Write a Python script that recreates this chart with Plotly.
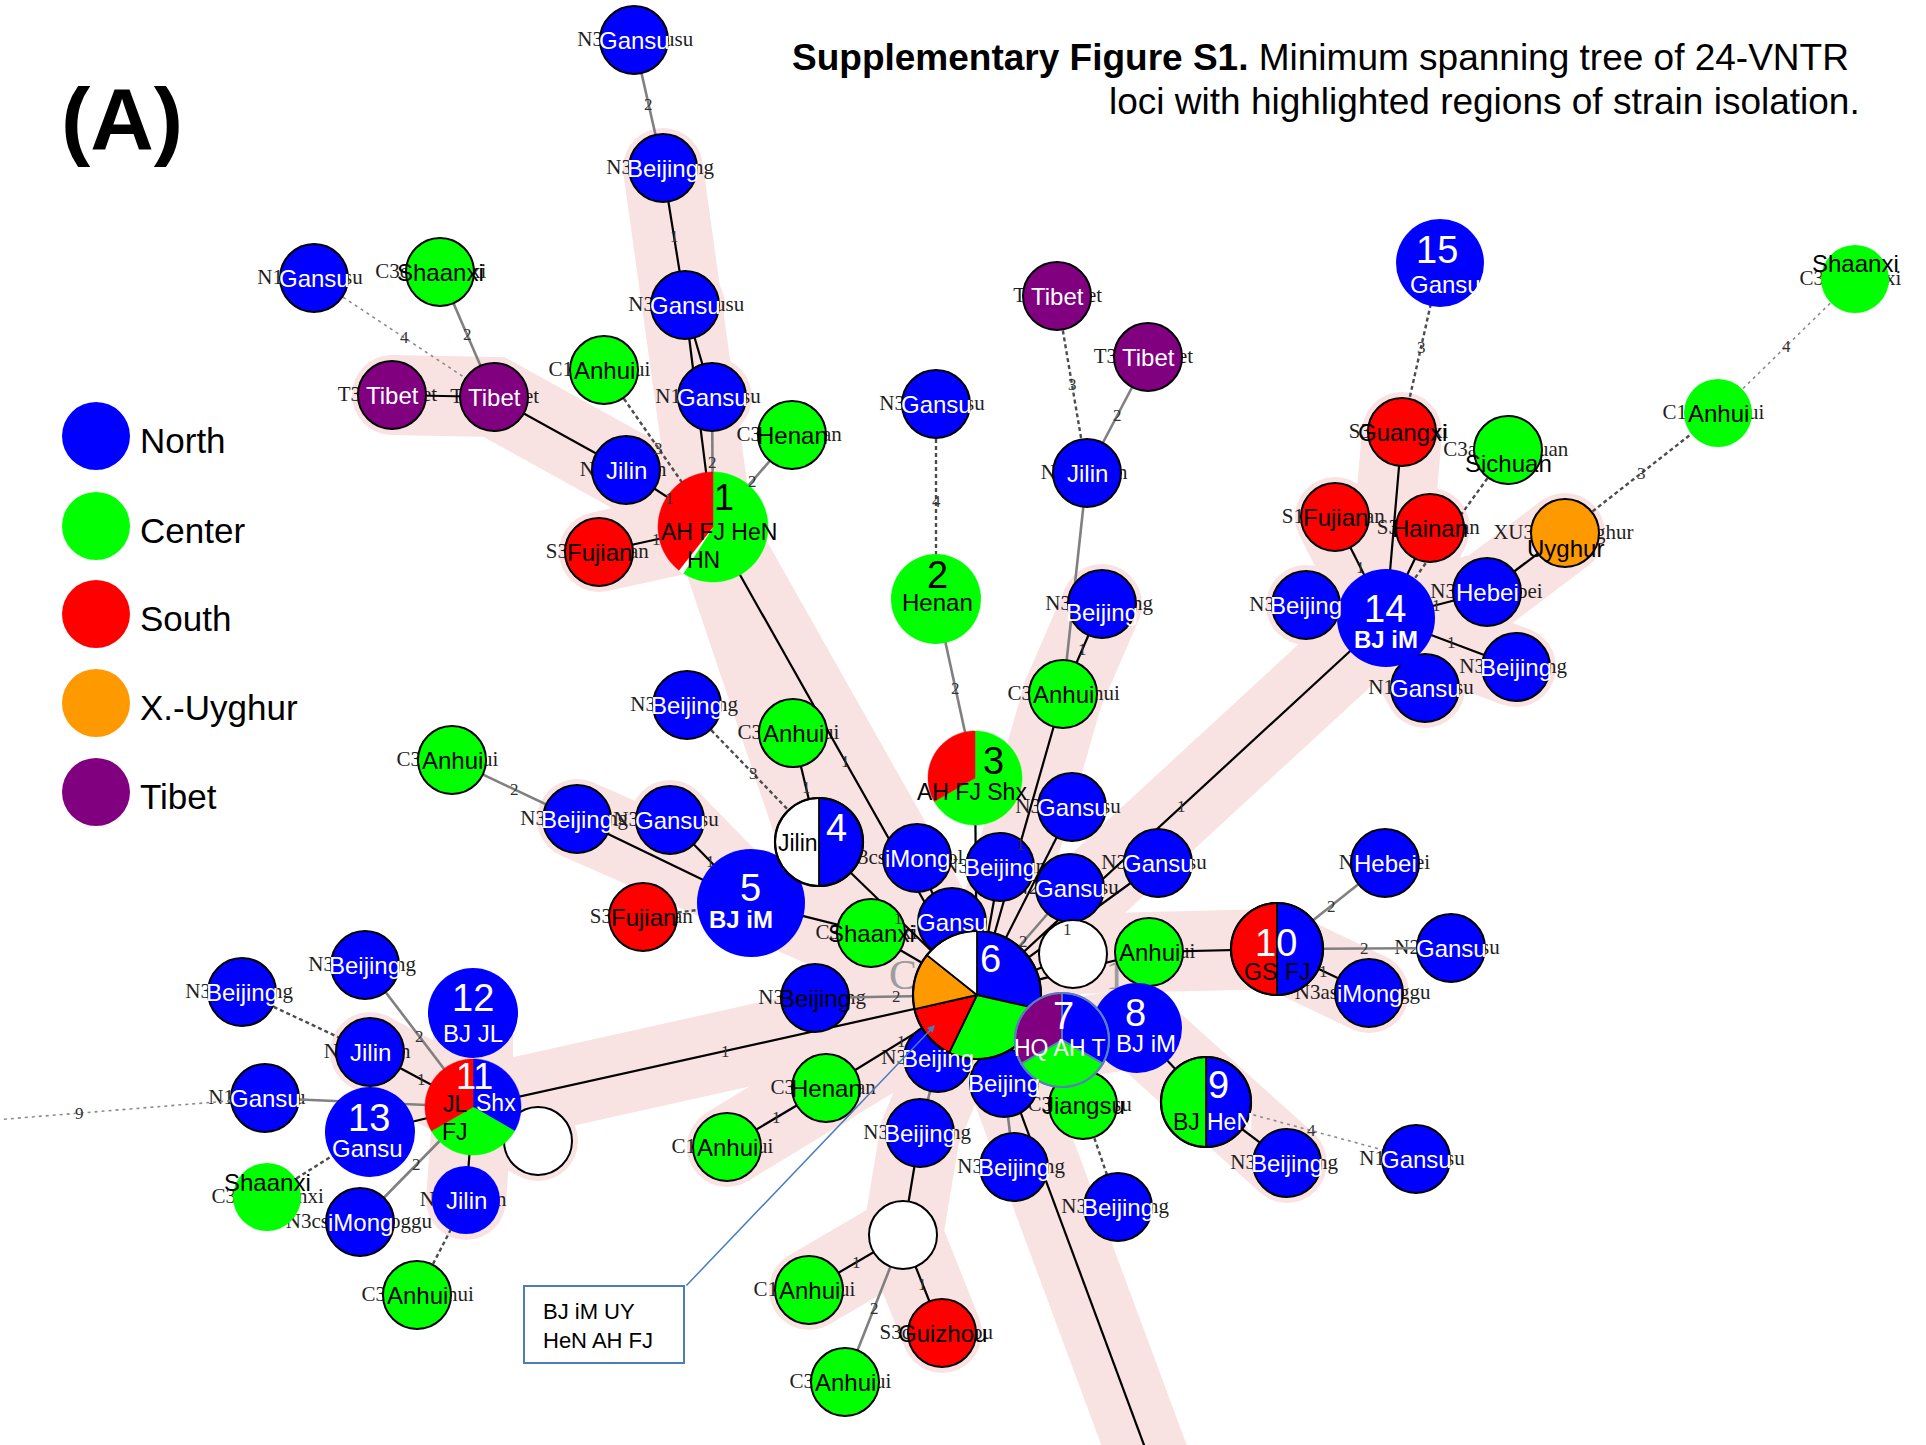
import math
import plotly.graph_objects as go

W, H = 1926, 1445

# ---------------- regions ----------------
region_names = ["North", "Center", "South", "X.-Uyghur", "Tibet"]
region_codes = ["N", "C", "S", "X", "T"]
region_colors = ["#0000ff", "#00ff00", "#ff0000", "#ff9900", "#800080"]
COLOR = dict(zip(region_codes, region_colors))
COLOR["U"] = "#ffffff"          # unassigned isolate

# ---------------- single-isolate nodes ----------------
small_ids = ["gs_top", "bj_a", "gs_b", "gs_c", "ah_a", "hen_a", "jl_a", "fj_a", "tb_a", "tb_b",
             "gs_d", "sx_a", "gs_e", "tb_c", "tb_d", "jl_b", "bj_b", "ah_b", "gs_f", "bj_c",
             "ah_c", "ah_d", "bj_d", "gs_g", "fj_b", "im_a", "bj_e", "gs_h", "sx_b", "gs_i",
             "gs_j", "wt_a", "ah_e", "bj_f", "bj_g", "bj_h", "hen_b", "ah_f", "bj_i", "bj_j",
             "bj_k", "js_a", "wt_b", "ah_g", "gz_a", "ah_h", "hb_a", "gs_k", "im_b", "bj_l",
             "gs_l", "gx_a", "sc_a", "fj_c", "hn_a", "ug_a", "hb_b", "bj_n", "bj_o", "gs_m",
             "ah_i", "sx_c", "bj_p", "bj_q", "jl_c", "gs_n", "sx_d", "im_c", "jl_d", "ah_j",
             "wt_c"]
small_x = [634, 663, 685, 712, 604, 792, 626, 599, 392, 494,
           314, 440, 936, 1057, 1148, 1087, 1102, 1063, 1072, 687,
           793, 452, 577, 670, 643, 917, 1000, 952, 871, 1070,
           1158, 1073, 1149, 815, 938, 1004, 826, 727, 920, 1014,
           1118, 1083, 903, 809, 942, 845, 1385, 1451, 1369, 1287,
           1416, 1402, 1508, 1335, 1430, 1565, 1487, 1306, 1516, 1425,
           1718, 1855, 242, 365, 370, 265, 267, 360, 466, 417,
           538]
small_y = [40, 168, 305, 397, 370, 435, 470, 552, 395, 397,
           278, 272, 404, 296, 357, 473, 604, 694, 807, 705,
           733, 760, 819, 820, 917, 858, 867, 922, 933, 888,
           863, 954, 952, 998, 1058, 1083, 1088, 1147, 1133, 1167,
           1207, 1105, 1235, 1290, 1333, 1382, 863, 948, 993, 1163,
           1159, 432, 450, 517, 528, 533, 592, 605, 667, 688,
           413, 279, 992, 965, 1052, 1098, 1197, 1222, 1200, 1295,
           1141]
small_region = ["N", "N", "N", "N", "C", "C", "N", "S", "T", "T",
                "N", "C", "N", "T", "T", "N", "N", "C", "N", "N",
                "C", "C", "N", "N", "S", "N", "N", "N", "C", "N",
                "N", "U", "C", "N", "N", "N", "C", "C", "N", "N",
                "N", "C", "U", "C", "S", "C", "N", "N", "N", "N",
                "N", "S", "C", "S", "S", "X", "N", "N", "N", "N",
                "C", "C", "N", "N", "N", "N", "C", "N", "N", "C",
                "U"]
small_label = ["Gansu", "Beijing", "Gansu", "Gansu", "Anhui", "Henan", "Jilin", "Fujian", "Tibet", "Tibet",
               "Gansu", "Shaanxi", "Gansu", "Tibet", "Tibet", "Jilin", "Beijing", "Anhui", "Gansu", "Beijing",
               "Anhui", "Anhui", "Beijing", "Gansu", "Fujian", "iMong", "Beijing", "Gansu", "Shaanxi", "Gansu",
               "Gansu", "", "Anhui", "Beijing", "Beijing", "Beijing", "Henan", "Anhui", "Beijing", "Beijing",
               "Beijing", "Jiangsu", "", "Anhui", "Guizhou", "Anhui", "Hebei", "Gansu", "iMong", "Beijing",
               "Gansu", "Guangxi", "Sichuan", "Fujian", "Hainan", "Uyghur", "Hebei", "Beijing", "Beijing", "Gansu",
               "Anhui", "Shaanxi", "Beijing", "Beijing", "Jilin", "Gansu", "Shaanxi", "iMong", "Jilin", "Anhui",
               ""]
small_prefix = ["N3", "N3", "N3", "N1", "C1", "C3", "N", "S3", "T3", "T",
                "N1", "C3c", "N3", "T", "T3", "N", "N3", "C3", "N3", "N3",
                "C3", "C3", "N3", "N3", "S3", "N3cs", "N3", "", "C3", "N2",
                "N3", "", "", "N3", "N3", "", "C3", "C1", "N3", "N3",
                "N3", "C3", "", "C1", "S3c", "C3", "N", "N2", "N3as", "N3",
                "N1", "S3", "C3a", "S1", "S3", "XU3", "N3", "N3", "N3", "N1",
                "C1", "C3", "N3", "N3", "N", "N1", "C3", "N3cs", "N", "C3",
                ""]
small_suffix = ["usu", "ng", "usu", "su", "ui", "an", "n", "an", "et", "et",
                "su", "xi", "su", "et", "et", "n", "ng", "hui", "su", "ng",
                "ui", "ui", "ng", "su", "an", "ol", "in", "", "xi", "su",
                "su", "", "ui", "ng", "", "", "an", "ui", "ng", "ng",
                "ng", "su", "", "ui", "ou", "ui", "ei", "su", "ggu", "ng",
                "su", "xi", "uan", "an", "an", "ghur", "bei", "", "ng", "su",
                "ui", "xi", "ng", "ng", "n", "u", "nxi", "oggu", "n", "hui",
                ""]
small_no_outline = ["ah_i", "sx_c", "sx_d", "jl_d"]
small_dark_label = ["bj_f"]
small_label_dy = {"bj_b": 8, "sc_a": 13, "ug_a": 15, "sx_c": -16, "sx_d": -15}
SMALL_R = 34

# ---------------- multi-isolate (numbered) nodes ----------------
cluster_ids = ["c1", "c2", "c3", "c4", "c5", "c6", "c7", "c8", "c9", "c10", "c11", "c12", "c13", "c14", "c15"]
cluster_x = [713, 936, 975, 819, 751, 977, 1062, 1137, 1206, 1277, 473, 473, 370, 1386, 1440]
cluster_y = [527, 599, 778, 842, 903, 995, 1040, 1028, 1102, 949, 1107, 1013, 1132, 618, 263]
cluster_r = [55, 45, 47, 44, 54, 64, 47, 45, 45, 46, 48, 45, 45, 49, 44]
# isolate counts per region, listed clockwise from 12 o'clock
cluster_counts = [
    [("C", 3), ("U", 0.08), ("S", 2)],
    [("C", 1)],
    [("C", 2), ("S", 1)],
    [("N", 1), ("U", 1)],
    [("N", 1)],
    [("N", 2), ("C", 2), ("S", 1), ("X", 1), ("U", 1)],
    [("N", 1), ("C", 1), ("T", 1)],
    [("N", 1)],
    [("N", 1), ("C", 1)],
    [("N", 1), ("S", 1)],
    [("N", 1), ("C", 1), ("S", 1)],
    [("N", 1)],
    [("N", 1)],
    [("N", 1)],
    [("N", 1)],
]
cluster_outline = [None, None, None, "#000000", None, "#000000", "#5b7fb8", None,
                   "#000000", "#000000", None, None, None, None, None]
# text lines drawn on each numbered node: (text, dx, dy, colour, size, bold)
cluster_text = [
    [("1", 11, -30, "black", 36, False), ("AH FJ HeN", 6, 5, "black", 23, False), ("HN", -10, 33, "black", 23, False)],
    [("2", 1, -24, "black", 38, False), ("Henan", 1, 3, "black", 24, False)],
    [("3", 18, -17, "black", 38, False), ("AH FJ Shx", -3, 14, "black", 23, False)],
    [("4", 17, -14, "white", 38, False), ("Jilin", -21, 1, "black", 23, False)],
    [("5", -1, -15, "white", 38, False), ("BJ iM", -10, 16, "white", 24, True)],
    [("6", 13, -36, "white", 38, False)],
    [("7", 1, -24, "white", 38, False), ("HQ AH T", -2, 8, "white", 23, False)],
    [("8", -2, -15, "white", 38, False), ("BJ iM", 9, 15, "white", 24, False)],
    [("9", 12, -17, "white", 38, False), ("BJ", -20, 20, "black", 23, False), ("HeN", 24, 20, "white", 23, False)],
    [("10", -1, -6, "white", 38, False), ("GS", -17, 23, "black", 23, False), ("FJ", 21, 23, "black", 23, False)],
    [("11", 1, -31, "white", 36, False), ("JL", -18, -3, "black", 23, False), ("Shx", 23, -4, "white", 23, False),
     ("FJ", -18, 25, "black", 23, False)],
    [("12", 0, -15, "white", 38, False), ("BJ JL", 0, 20, "white", 24, False)],
    [("13", -1, -14, "white", 38, False), ("Gansu", -3, 16, "white", 24, False)],
    [("14", -1, -9, "white", 38, False), ("BJ iM", 0, 21, "white", 24, True)],
    [("15", -3, -13, "white", 38, False), ("Gansu", 5, 21, "white", 24, False)],
]
cluster_draw_order = ["c2", "c3", "c1", "c5", "c4", "c12", "c13", "c11", "c14", "c15", "c10", "c9", "c8", "c6", "c7"]

# anchors for links that leave the drawing area
offframe_ids = ["off_left", "off_bottom"]
offframe_x = [-30, 1157]
offframe_y = [1122, 1480]

# ---------------- links: (from, to, kind, distance label) ----------------
# kind: b = 1 locus (black), g = 2 loci (grey), d = 3-4 loci (dashed), t = far (dotted)
edges = [
    ("gs_top", "bj_a", "g", "2"), ("bj_a", "gs_b", "b", "1"), ("gs_b", "gs_c", "b", ""),
    ("gs_b", "c1", "b", ""), ("gs_c", "c1", "g", "2"), ("hen_a", "c1", "g", "2"),
    ("ah_a", "c1", "d", "3"), ("jl_a", "c1", "b", "1"), ("tb_b", "jl_a", "b", ""),
    ("tb_a", "tb_b", "b", ""), ("gs_d", "tb_b", "t", "4"), ("sx_a", "tb_b", "g", "2"),
    ("fj_a", "c1", "b", "1"), ("c1", "c6", "b", "1"),
    ("gs_e", "c2", "d", "4"), ("c2", "c3", "g", "2"), ("c3", "c6", "b", ""),
    ("tb_c", "jl_b", "d", "3"), ("tb_d", "jl_b", "g", "2"), ("jl_b", "ah_b", "g", ""),
    ("bj_b", "ah_b", "b", "1"), ("ah_b", "c6", "b", "1"),
    ("c14", "c6", "b", "1"), ("gx_a", "c14", "b", ""), ("c15", "gx_a", "d", "3"),
    ("sc_a", "c14", "d", ""), ("fj_c", "c14", "b", "1"), ("hn_a", "c14", "b", ""),
    ("hb_b", "c14", "b", "1"), ("ug_a", "hb_b", "b", ""), ("ug_a", "ah_i", "d", "3"),
    ("ah_i", "sx_c", "t", "4"), ("bj_n", "c14", "b", ""), ("bj_o", "c14", "b", "1"),
    ("gs_m", "c14", "b", ""),
    ("bj_c", "c4", "d", "3"), ("ah_c", "c4", "b", "1"), ("c4", "c6", "b", "1"),
    ("ah_d", "bj_d", "g", "2"), ("bj_d", "c5", "b", ""), ("gs_g", "c5", "b", "1"),
    ("fj_b", "c5", "d", ""), ("c5", "sx_b", "b", ""), ("sx_b", "c6", "b", ""),
    ("im_a", "c6", "b", ""), ("bj_e", "c6", "b", ""), ("gs_f", "c6", "b", ""),
    ("gs_h", "c6", "b", ""), ("gs_i", "c6", "g", "2"), ("gs_j", "c6", "b", "1"),
    ("wt_a", "c6", "b", ""), ("ah_e", "c6", "b", ""), ("ah_e", "c10", "b", ""),
    ("c10", "hb_a", "g", "2"), ("c10", "gs_k", "g", "2"), ("c10", "im_b", "b", "1"),
    ("c8", "c9", "b", ""), ("c9", "bj_l", "b", ""), ("c9", "gs_l", "t", "4"),
    ("bj_f", "c6", "g", "2"), ("c6", "c11", "b", "1"), ("hen_b", "c6", "b", "1"),
    ("ah_f", "hen_b", "b", "1"), ("bj_g", "c6", "b", ""), ("bj_h", "c6", "b", ""),
    ("bj_i", "bj_g", "g", ""), ("bj_i", "wt_b", "b", ""), ("ah_g", "wt_b", "b", "1"),
    ("gz_a", "wt_b", "b", "1"), ("ah_h", "wt_b", "g", "2"), ("bj_j", "bj_h", "g", ""),
    ("c6", "off_bottom", "b", ""), ("js_a", "c7", "b", ""), ("js_a", "bj_k", "d", ""),
    ("bj_q", "c11", "g", "2"), ("bj_p", "jl_c", "d", ""), ("jl_c", "c11", "b", "1"),
    ("gs_n", "c11", "g", ""), ("gs_n", "off_left", "t", "9"), ("c13", "c11", "b", ""),
    ("sx_d", "c13", "d", ""), ("im_c", "c11", "g", "2"), ("jl_d", "c11", "b", ""),
    ("ah_j", "jl_d", "d", ""),
]
edge_label_t = {("gs_n", "off_left"): 0.63}

# highlighted groups (shaded halo along the tree)
halo_paths = [
    ["bj_a", "gs_b", "gs_c", "c1", "c6"],
    ["tb_a", "tb_b", "jl_a", "c1"],
    ["fj_a", "c1"],
    ["c1", "ah_c", "c4", "c6"],
    ["bj_b", "ah_b", "c6"],
    ["c6", "c14", "gx_a"], ["c14", "fj_c"], ["c14", "hn_a"], ["c14", "hb_b", "ug_a"],
    ["c14", "bj_n"], ["c14", "gs_m"], ["c14", "bj_o"],
    ["c6", "wt_a", "ah_e", "c10", "im_b"],
    ["c6", "c7", "c8", "c9", "bj_l"],
    ["c6", "off_bottom"],
    ["c6", "bj_i", "wt_b", "gz_a"], ["wt_b", "ah_g"],
    ["c6", "hen_b", "ah_f"],
    ["c6", "c11", "wt_c"], ["c11", "c12"], ["c11", "jl_c"], ["c11", "jl_d"],
    ["c6", "c5", "bj_d"], ["c5", "gs_g"],
]

# ---------------- geometry helpers ----------------
POS = {}
for i, k in enumerate(small_ids):
    POS[k] = (small_x[i], small_y[i])
for i, k in enumerate(cluster_ids):
    POS[k] = (cluster_x[i], cluster_y[i])
for i, k in enumerate(offframe_ids):
    POS[k] = (offframe_x[i], offframe_y[i])


def wedge_path(cx, cy, r, a0, a1):
    """Pie slice, angles in degrees clockwise from 12 o'clock (screen y grows downward)."""
    n = max(3, int(abs(a1 - a0) / 2) + 1)
    pts = [(cx, cy)]
    for j in range(n + 1):
        a = math.radians(a0 + (a1 - a0) * j / n)
        pts.append((cx + r * math.sin(a), cy - r * math.cos(a)))
    return "M " + " L ".join(f"{px:.2f},{py:.2f}" for px, py in pts) + " Z"


SANS = "Liberation Sans, Arial, sans-serif"
SERIF = "Liberation Serif, Times New Roman, serif"
HALO = "#f9e2e2"

fig = go.Figure()

# halo bands
hx, hy = [], []
for path in halo_paths:
    for k in path:
        hx.append(POS[k][0])
        hy.append(POS[k][1])
    hx.append(None)
    hy.append(None)
fig.add_trace(go.Scatter(x=hx, y=hy, mode="lines+markers",
                         line=dict(color=HALO, width=80),
                         marker=dict(color=HALO, size=80, line=dict(width=0)),
                         hoverinfo="skip", showlegend=False))

# faint large serif label behind the central node
fig.add_trace(go.Scatter(x=[903, 1116], y=[978, 978], mode="text", text=["C", "1"],
                         textfont=dict(family=SERIF, size=42, color="#9d9d9d"),
                         hoverinfo="skip", showlegend=False))

# isolate-code labels in serif type, partly covered by the node discs
lx, ly, lt = [], [], []
rx, ry, rt = [], [], []
for i, k in enumerate(small_ids):
    cx, cy = small_x[i], small_y[i]
    if small_prefix[i]:
        lx.append(cx - SMALL_R + 3)
        ly.append(cy + 1)
        lt.append(small_prefix[i])
    if small_suffix[i]:
        rx.append(cx + SMALL_R - 4)
        ry.append(cy + 1)
        rt.append(small_suffix[i])
fig.add_trace(go.Scatter(x=lx, y=ly, mode="text", text=lt, textposition="middle left",
                         textfont=dict(family=SERIF, size=21, color="#1f1f1f"),
                         hoverinfo="skip", showlegend=False))
fig.add_trace(go.Scatter(x=rx, y=ry, mode="text", text=rt, textposition="middle right",
                         textfont=dict(family=SERIF, size=21, color="#1f1f1f"),
                         hoverinfo="skip", showlegend=False))

# links
edge_style = {
    "b": dict(color="#000000", width=2.2),
    "g": dict(color="#808080", width=2.6),
    "d": dict(color="#4d4d4d", width=2.4, dash="4px,3px"),
    "t": dict(color="#8c8c8c", width=1.6, dash="3px,4px"),
}
for kind, style in edge_style.items():
    ex, ey = [], []
    for a, b, kd, lab in edges:
        if kd != kind:
            continue
        ex += [POS[a][0], POS[b][0], None]
        ey += [POS[a][1], POS[b][1], None]
    fig.add_trace(go.Scatter(x=ex, y=ey, mode="lines", line=style,
                             hoverinfo="skip", showlegend=False))

shapes = []
annotations = []

# single-isolate discs
for i, k in enumerate(small_ids):
    cx, cy = small_x[i], small_y[i]
    outlined = k not in small_no_outline
    shapes.append(dict(type="circle", xref="x", yref="y", layer="above",
                       x0=cx - SMALL_R, x1=cx + SMALL_R, y0=cy - SMALL_R, y1=cy + SMALL_R,
                       fillcolor=COLOR[small_region[i]],
                       line=dict(color="black", width=2 if outlined else 0)))
    if small_label[i]:
        reg = small_region[i]
        dark = reg in ("C", "S", "X") or k in small_dark_label
        annotations.append(dict(x=cx, y=cy + small_label_dy.get(k, 0), xref="x", yref="y",
                                text=small_label[i], showarrow=False,
                                font=dict(family=SANS, size=24, color="black" if dark else "white")))

# numbered nodes (pie charts of isolate origin)
idx = {k: i for i, k in enumerate(cluster_ids)}
for k in cluster_draw_order:
    i = idx[k]
    cx, cy, r = cluster_x[i], cluster_y[i], cluster_r[i]
    counts = cluster_counts[i]
    outline = cluster_outline[i]
    total = sum(c for _, c in counts)
    if len(counts) == 1:
        shapes.append(dict(type="circle", xref="x", yref="y", layer="above",
                           x0=cx - r, x1=cx + r, y0=cy - r, y1=cy + r,
                           fillcolor=COLOR[counts[0][0]],
                           line=dict(color=outline or "black", width=2 if outline else 0)))
    else:
        a = 0.0
        for reg, c in counts:
            span = 360.0 * c / total
            shapes.append(dict(type="path", xref="x", yref="y", layer="above",
                               path=wedge_path(cx, cy, r, a, a + span),
                               fillcolor=COLOR[reg],
                               line=dict(color=outline or COLOR[reg], width=1.8 if outline else 0.5)))
            a += span
        if outline:
            shapes.append(dict(type="circle", xref="x", yref="y", layer="above",
                               x0=cx - r, x1=cx + r, y0=cy - r, y1=cy + r,
                               fillcolor="rgba(0,0,0,0)",
                               line=dict(color=outline, width=2.2)))
    for txt, dx, dy, col, size, bold in cluster_text[i]:
        annotations.append(dict(x=cx + dx, y=cy + dy, xref="x", yref="y", showarrow=False,
                                text=f"<b>{txt}</b>" if bold else txt,
                                font=dict(family=SANS, size=size, color=col)))

# link distance labels
for a, b, kd, lab in edges:
    if not lab:
        continue
    t = edge_label_t.get((a, b), 0.5)
    x = POS[a][0] + (POS[b][0] - POS[a][0]) * t
    y = POS[a][1] + (POS[b][1] - POS[a][1]) * t
    annotations.append(dict(x=x, y=y, xref="x", yref="y", text=lab, showarrow=False,
                            font=dict(family=SERIF, size=17, color="#333333")))

# legend
legend_y = [436, 526, 614, 703, 792]
for name, code, ly_ in zip(region_names, region_codes, legend_y):
    shapes.append(dict(type="circle", xref="x", yref="y", layer="above",
                       x0=96 - 34, x1=96 + 34, y0=ly_ - 34, y1=ly_ + 34,
                       fillcolor=COLOR[code], line=dict(width=0)))
    annotations.append(dict(x=138, y=ly_ + 4, xref="x", yref="y", xanchor="left", showarrow=False,
                            text=name, font=dict(family=SANS, size=35, color="black")))

# panel tag and caption
annotations.append(dict(x=122, y=118, xref="x", yref="y", showarrow=False, text="<b>(A)</b>",
                        font=dict(family=SANS, size=88, color="black")))
annotations.append(dict(x=1851, y=57, xref="x", yref="y", xanchor="right", showarrow=False,
                        text="<b>Supplementary Figure S1.</b> Minimum spanning tree of 24-VNTR",
                        font=dict(family=SANS, size=37, color="black")))
annotations.append(dict(x=1862, y=101, xref="x", yref="y", xanchor="right", showarrow=False,
                        text="loci with highlighted regions of strain isolation.",
                        font=dict(family=SANS, size=37, color="black")))

# call-out for the central node
shapes.append(dict(type="rect", xref="x", yref="y", layer="above",
                   x0=524, x1=684, y0=1286, y1=1363, fillcolor="white",
                   line=dict(color="#4a7ebb", width=2)))
annotations.append(dict(x=541, y=1326, xref="x", yref="y", xanchor="left", align="left",
                        showarrow=False, text="BJ iM UY<br>HeN AH FJ",
                        font=dict(family=SANS, size=22, color="black")))
annotations.append(dict(x=935, y=1025, ax=685, ay=1287, xref="x", yref="y", axref="x", ayref="y",
                        text="", showarrow=True, arrowhead=2, arrowsize=1, arrowwidth=1.5,
                        arrowcolor="#4a7ebb"))

fig.update_layout(
    width=W, height=H,
    margin=dict(l=0, r=0, t=0, b=0),
    paper_bgcolor="white", plot_bgcolor="white",
    xaxis=dict(range=[0, W], visible=False, fixedrange=True),
    yaxis=dict(range=[H, 0], visible=False, fixedrange=True),
    shapes=shapes, annotations=annotations,
    showlegend=False, hovermode=False,
)

fig.write_html("out.html", config={"displayModeBar": False})
